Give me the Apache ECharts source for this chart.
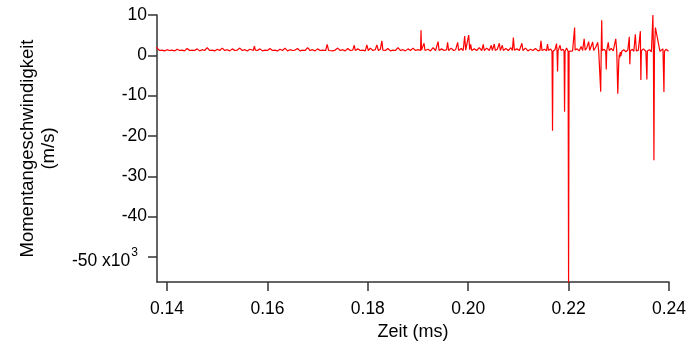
<!DOCTYPE html>
<html>
<head>
<meta charset="utf-8">
<script src="https://cdn.jsdelivr.net/npm/echarts@6/dist/echarts.min.js"></script>
<style>
html,body{margin:0;padding:0;background:#fff;}
#chart{width:689px;height:347px;}
</style>
</head>
<body>
<div id="chart"></div>
<script>
// Time (ms) / speed (x10^3 m/s) samples
const samples = [
[0.1378,2.0],[0.1381,1.8],[0.1385,1.2],[0.1390,1.3],[0.1395,1.1],[0.1400,1.4],[0.1405,1.2],[0.1410,1.3],[0.1415,1.1],[0.1420,1.5],
[0.1425,1.2],[0.1430,1.3],[0.1435,1.1],[0.1440,1.7],[0.1445,1.2],[0.1450,1.3],[0.1455,1.2],[0.1460,1.6],[0.1465,1.1],[0.1470,1.4],
[0.1475,1.2],[0.1480,1.9],[0.1485,1.2],[0.1490,1.3],[0.1495,1.1],[0.1500,1.5],[0.1505,1.2],[0.1510,1.8],[0.1515,1.2],[0.1520,1.4],
[0.1525,1.1],[0.1530,1.6],[0.1535,1.2],[0.1540,1.3],[0.1545,1.8],[0.1550,1.2],[0.1555,1.4],[0.1560,1.1],[0.1565,1.5],[0.1572,1.2],[0.1574,2.3],[0.1576,1.3],
[0.1580,1.2],[0.1585,1.6],[0.1590,1.1],[0.1595,1.3],[0.1600,1.2],[0.1605,1.7],[0.1610,1.2],[0.1615,1.3],[0.1620,1.1],[0.1625,1.5],
[0.1630,1.2],[0.1635,1.8],[0.1640,1.1],[0.1645,1.4],[0.1650,1.2],[0.1655,1.3],[0.1660,1.7],[0.1665,1.1],[0.1670,1.3],[0.1675,1.2],
[0.1680,1.9],[0.1685,1.2],[0.1690,1.4],[0.1695,1.1],[0.1700,1.6],[0.1705,1.2],[0.1710,1.3],[0.1716,1.2],[0.1719,2.7],[0.1722,1.2],
[0.1725,1.5],[0.1730,1.1],[0.1735,1.3],[0.1740,1.8],[0.1745,1.2],[0.1750,1.4],[0.1755,1.1],[0.1760,1.7],[0.1765,1.2],[0.1770,1.3],[0.1773,2.5],[0.1775,1.2],
[0.1780,1.6],[0.1785,1.2],[0.1790,1.3],[0.1795,1.1],[0.1798,2.6],[0.1801,1.2],[0.1805,1.8],[0.1810,1.2],[0.1815,1.4],[0.1818,2.6],[0.1821,1.2],[0.1825,1.5],[0.1828,3.6],[0.1830,1.3],
[0.1835,1.2],[0.1840,1.7],[0.1845,1.1],[0.1850,1.3],[0.1855,1.2],[0.1860,1.9],[0.1865,1.2],[0.1870,1.4],[0.1875,1.1],[0.1880,1.6],
[0.1885,1.2],[0.1890,1.8],[0.1895,1.2],[0.1900,1.4],[0.1905,1.2],[0.1906,6.2],[0.1907,1.3],[0.1910,1.2],[0.1912,3.0],[0.1914,1.2],
[0.1920,1.5],[0.1925,1.1],[0.1930,1.9],[0.1935,1.2],[0.1940,3.4],[0.1942,1.2],[0.1947,1.6],[0.1952,1.2],[0.1957,1.4],[0.1959,3.2],[0.1961,1.2],
[0.1966,1.8],[0.1971,1.2],[0.1975,1.4],[0.1979,3.2],[0.1981,1.2],[0.1986,1.7],[0.1990,1.2],[0.1993,4.8],[0.1995,1.3],[0.1998,1.2],[0.2001,5.0],[0.2003,1.4],[0.2005,2.7],[0.2007,1.2],
[0.2012,1.6],[0.2017,1.2],[0.2022,1.9],[0.2027,1.2],[0.2030,2.7],[0.2032,1.2],[0.2037,1.8],[0.2042,1.2],[0.2046,2.5],[0.2048,1.2],
[0.2052,2.8],[0.2054,1.2],[0.2058,1.5],[0.2062,3.0],[0.2064,1.2],[0.2068,2.5],[0.2070,1.2],[0.2075,1.7],[0.2080,1.2],[0.2085,1.9],
[0.2088,1.2],[0.2090,4.4],[0.2092,1.3],[0.2097,1.6],[0.2102,1.2],[0.2107,3.0],[0.2109,1.2],[0.2114,1.8],[0.2119,1.1],[0.2124,1.5],
[0.2129,1.2],[0.2134,1.7],[0.2139,1.1],[0.2143,1.3],[0.2145,3.6],[0.2147,1.2],[0.2152,1.5],[0.2156,1.1],[0.2158,2.8],[0.2160,1.2],
[0.2164,1.6],[0.2167,1.0],[0.2168,-18.7],[0.2169,1.0],[0.2173,1.4],[0.2176,2.9],[0.2177,1.0],[0.2178,-4.0],[0.2179,1.1],[0.2183,2.5],[0.2185,1.2],
[0.2189,1.5],[0.2191,1.0],[0.2192,-14.0],[0.2193,1.0],[0.2196,1.8],[0.2199,1.0],[0.2200,-57.0],[0.2201,1.0],[0.2204,1.4],[0.2208,1.1],
[0.2211,1.2],[0.2212,6.9],[0.2213,1.3],[0.2217,1.6],[0.2221,1.1],[0.2225,2.2],[0.2228,1.2],[0.2231,4.1],[0.2233,1.3],[0.2236,1.8],
[0.2240,3.4],[0.2242,1.2],[0.2245,1.6],[0.2248,3.3],[0.2250,1.2],[0.2254,2.0],[0.2258,3.2],[0.2260,1.1],[0.2263,1.0],[0.2264,-9.0],[0.2265,1.0],[0.2266,8.7],[0.2267,1.2],
[0.2271,1.5],[0.2274,1.0],[0.2275,-3.5],[0.2276,1.1],[0.2279,3.2],[0.2281,1.2],[0.2285,1.7],[0.2289,1.1],[0.2294,4.1],[0.2296,1.0],
[0.2298,-9.5],[0.2300,-1.5],[0.2301,0.2],[0.2302,-0.5],[0.2303,0.8],[0.2304,-0.2],[0.2306,1.0],[0.2310,1.4],[0.2314,0.9],[0.2318,1.3],
[0.2321,4.6],[0.2322,-2.2],[0.2323,1.1],[0.2327,1.5],[0.2330,1.0],[0.2333,5.2],[0.2335,1.1],[0.2339,1.3],[0.2342,1.0],[0.2343,6.0],[0.2344,-6.1],[0.2345,1.1],
[0.2349,1.6],[0.2354,1.0],[0.2356,-6.0],[0.2357,1.1],[0.2361,1.4],[0.2365,0.9],[0.2367,1.2],[0.2368,10.0],[0.2369,1.0],[0.2370,-26.0],[0.2371,1.0],[0.2373,6.9],
[0.2382,1.0],[0.2385,1.3],[0.2388,1.6],[0.2390,-9.1],[0.2391,1.0],[0.2394,1.5],[0.2396,1.2],[0.2399,1.0]
];

const xTicks = [0.14, 0.16, 0.18, 0.20, 0.22, 0.24];
const yTicks = [-50, -40, -30, -20, -10, 0, 10];

const FONT = '"Liberation Sans", Arial, sans-serif';
const chart = echarts.init(document.getElementById('chart'), null, {renderer: 'canvas'});
chart.setOption({
  animation: false,
  backgroundColor: '#fff',
  grid: {left: 157, right: 19, top: 15, bottom: 65, containLabel: false},
  xAxis: {
    type: 'value',
    min: 0.1380,
    max: 0.24,
    name: 'Zeit (ms)',
    nameLocation: 'middle',
    nameGap: 39,
    nameTextStyle: {fontFamily: FONT, fontSize: 18, color: '#000'},
    axisLine: {show: true, onZero: false, lineStyle: {color: '#333', width: 1.5}},
    axisTick: {show: true, inside: false, length: 9, customValues: xTicks, lineStyle: {color: '#333', width: 1.5}},
    axisLabel: {customValues: xTicks, margin: 18, fontFamily: FONT, fontSize: 17.5, color: '#000',
      formatter: v => v.toFixed(2)},
    splitLine: {show: false}
  },
  yAxis: {
    type: 'value',
    min: -56.2,
    max: 10,
    name: 'Momentangeschwindigkeit\n(m/s)',
    nameLocation: 'middle',
    nameGap: 98,
    nameRotate: 90,
    nameTextStyle: {fontFamily: FONT, fontSize: 18.5, color: '#000', lineHeight: 21, align: 'center'},
    axisLine: {show: true, onZero: false, lineStyle: {color: '#333', width: 1.5}},
    axisTick: {show: true, inside: false, length: 9, customValues: yTicks, lineStyle: {color: '#333', width: 1.5}},
    axisLabel: {customValues: yTicks, margin: 10, fontFamily: FONT, fontSize: 17.5, color: '#000',
      formatter: v => v === -50 ? '{a|-50 x10}{s|3}' : String(v),
      rich: {
        a: {fontFamily: FONT, fontSize: 17.5, color: '#000', padding: [9, 0, 0, 0]},
        s: {fontFamily: FONT, fontSize: 12, color: '#000', padding: [0, 9, 8, 1]}
      }
    },
    splitLine: {show: false}
  },
  series: [{
    type: 'line',
    data: samples,
    showSymbol: false,
    symbol: 'none',
    lineStyle: {color: '#ff0000', width: 1.2},
    clip: true
  }]
});
</script>
</body>
</html>
